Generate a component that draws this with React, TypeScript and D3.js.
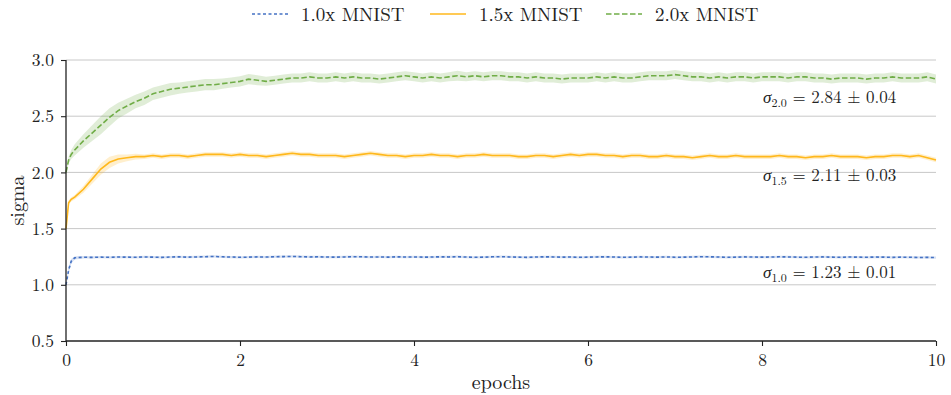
import React, { useRef, useEffect } from 'react';
import * as d3 from 'd3';

// epochs grid: a few dense points at the very start, then every 0.1 epoch
const epochs: number[] = [0, 0.03, 0.06, 0.1].concat(d3.range(2, 101).map(i => i / 10));

const blueMean = [
  1.00, 1.13, 1.21, 1.24,
  1.245, 1.244, 1.246, 1.245, 1.247, 1.246, 1.245, 1.248, 1.246,
  1.244, 1.247, 1.249, 1.246, 1.248, 1.250, 1.252, 1.249, 1.247, 1.245,
  1.246, 1.248, 1.247, 1.250, 1.251, 1.252, 1.250, 1.248, 1.249, 1.247,
  1.246, 1.248, 1.250, 1.249, 1.247, 1.248, 1.246, 1.249, 1.247, 1.248,
  1.246, 1.247, 1.249, 1.248, 1.250, 1.247, 1.245, 1.246, 1.249, 1.250,
  1.248, 1.246, 1.244, 1.247, 1.249, 1.248, 1.246, 1.247, 1.245, 1.246,
  1.248, 1.249, 1.247, 1.245, 1.246, 1.248, 1.247, 1.246, 1.248, 1.245,
  1.246, 1.248, 1.250, 1.249, 1.247, 1.245, 1.246, 1.248, 1.247, 1.246,
  1.247, 1.249, 1.248, 1.246, 1.245, 1.247, 1.248, 1.246, 1.245, 1.247,
  1.246, 1.245, 1.247, 1.246, 1.244, 1.246, 1.245, 1.243, 1.244, 1.242,
];
const blueSpread = [
  0.01, 0.03, 0.02, 0.015,
  0.012, 0.01, 0.01, 0.01, 0.01, 0.01, 0.01, 0.01, 0.01,
  0.01, 0.01, 0.01, 0.01, 0.01, 0.01, 0.01, 0.01, 0.01, 0.01,
  0.01, 0.01, 0.01, 0.01, 0.01, 0.01, 0.01, 0.01, 0.01, 0.01,
  0.01, 0.01, 0.01, 0.01, 0.01, 0.01, 0.01, 0.01, 0.01, 0.01,
  0.01, 0.01, 0.01, 0.01, 0.01, 0.01, 0.01, 0.01, 0.01, 0.01,
  0.01, 0.01, 0.01, 0.01, 0.01, 0.01, 0.01, 0.01, 0.01, 0.01,
  0.01, 0.01, 0.01, 0.01, 0.01, 0.01, 0.01, 0.01, 0.01, 0.01,
  0.01, 0.01, 0.01, 0.01, 0.01, 0.01, 0.01, 0.01, 0.01, 0.01,
  0.01, 0.01, 0.01, 0.01, 0.01, 0.01, 0.01, 0.01, 0.01, 0.01,
  0.01, 0.01, 0.01, 0.01, 0.01, 0.01, 0.01, 0.01, 0.01, 0.01,
];

const orangeMean = [
  1.50, 1.73, 1.76, 1.78,
  1.85, 1.94, 2.03, 2.09, 2.12, 2.13, 2.14, 2.14, 2.15,
  2.14, 2.15, 2.15, 2.14, 2.15, 2.16, 2.16, 2.16, 2.15, 2.16,
  2.15, 2.15, 2.14, 2.15, 2.16, 2.17, 2.16, 2.16, 2.15, 2.15,
  2.15, 2.14, 2.15, 2.16, 2.17, 2.16, 2.15, 2.15, 2.14, 2.15,
  2.15, 2.16, 2.15, 2.15, 2.14, 2.15, 2.15, 2.16, 2.15, 2.15,
  2.15, 2.14, 2.14, 2.15, 2.15, 2.14, 2.15, 2.16, 2.15, 2.16,
  2.16, 2.15, 2.15, 2.14, 2.15, 2.15, 2.14, 2.14, 2.15, 2.14,
  2.14, 2.13, 2.14, 2.15, 2.14, 2.14, 2.15, 2.14, 2.14, 2.14,
  2.14, 2.15, 2.14, 2.14, 2.13, 2.14, 2.14, 2.15, 2.14, 2.14,
  2.14, 2.13, 2.14, 2.14, 2.15, 2.15, 2.14, 2.15, 2.13, 2.11,
];
const orangeSpread = [
  0.01, 0.02, 0.02, 0.02,
  0.03, 0.04, 0.05, 0.05, 0.04, 0.03, 0.025, 0.02, 0.02,
  0.02, 0.02, 0.02, 0.02, 0.02, 0.02, 0.02, 0.02, 0.02, 0.02,
  0.02, 0.02, 0.02, 0.02, 0.02, 0.02, 0.02, 0.02, 0.02, 0.02,
  0.02, 0.02, 0.02, 0.02, 0.02, 0.02, 0.02, 0.02, 0.02, 0.02,
  0.02, 0.02, 0.02, 0.02, 0.02, 0.02, 0.02, 0.02, 0.02, 0.02,
  0.02, 0.02, 0.02, 0.02, 0.02, 0.02, 0.02, 0.02, 0.02, 0.02,
  0.02, 0.02, 0.02, 0.02, 0.02, 0.02, 0.02, 0.02, 0.02, 0.02,
  0.02, 0.02, 0.02, 0.02, 0.02, 0.02, 0.02, 0.02, 0.02, 0.02,
  0.02, 0.02, 0.02, 0.02, 0.02, 0.02, 0.02, 0.02, 0.02, 0.02,
  0.02, 0.02, 0.02, 0.02, 0.02, 0.02, 0.02, 0.02, 0.02, 0.02,
];

const greenMean = [
  2.00, 2.11, 2.16, 2.20,
  2.28, 2.35, 2.42, 2.49, 2.55, 2.59, 2.63, 2.66, 2.70,
  2.72, 2.74, 2.75, 2.76, 2.77, 2.78, 2.78, 2.79, 2.80, 2.81,
  2.83, 2.82, 2.81, 2.82, 2.83, 2.84, 2.84, 2.85, 2.84, 2.84,
  2.85, 2.84, 2.85, 2.84, 2.84, 2.83, 2.84, 2.85, 2.86, 2.85,
  2.84, 2.85, 2.84, 2.85, 2.86, 2.85, 2.86, 2.85, 2.86, 2.86,
  2.85, 2.85, 2.84, 2.85, 2.84, 2.84, 2.83, 2.84, 2.84, 2.84,
  2.85, 2.84, 2.85, 2.84, 2.84, 2.85, 2.86, 2.86, 2.86, 2.87,
  2.86, 2.85, 2.85, 2.84, 2.85, 2.84, 2.85, 2.85, 2.84, 2.85,
  2.85, 2.85, 2.84, 2.85, 2.85, 2.84, 2.84, 2.83, 2.84, 2.84,
  2.84, 2.83, 2.84, 2.84, 2.85, 2.84, 2.84, 2.84, 2.85, 2.83,
];
const greenSpread = [
  0.02, 0.03, 0.04, 0.05,
  0.06, 0.07, 0.08, 0.08, 0.07, 0.065, 0.06, 0.06, 0.055,
  0.055, 0.055, 0.05, 0.05, 0.05, 0.05, 0.05, 0.045, 0.045, 0.045,
  0.045, 0.045, 0.04, 0.04, 0.04, 0.04, 0.04, 0.04, 0.04, 0.04,
  0.04, 0.04, 0.04, 0.04, 0.04, 0.04, 0.04, 0.04, 0.04, 0.04,
  0.04, 0.04, 0.04, 0.04, 0.045, 0.04, 0.04, 0.04, 0.04, 0.04,
  0.04, 0.04, 0.04, 0.04, 0.04, 0.04, 0.04, 0.04, 0.04, 0.04,
  0.04, 0.04, 0.04, 0.04, 0.04, 0.04, 0.04, 0.04, 0.04, 0.04,
  0.04, 0.04, 0.04, 0.04, 0.04, 0.04, 0.04, 0.04, 0.04, 0.04,
  0.04, 0.04, 0.04, 0.04, 0.04, 0.04, 0.04, 0.04, 0.04, 0.04,
  0.04, 0.04, 0.04, 0.04, 0.04, 0.04, 0.04, 0.04, 0.04, 0.04,
];

const seriesNames = ['1.0x MNIST', '1.5x MNIST', '2.0x MNIST'];
const seriesMeans = [blueMean, orangeMean, greenMean];
const seriesSpreads = [blueSpread, orangeSpread, greenSpread];
const colors = ['#4472C4', '#FFB81C', '#70AD47'];
const dashes = ['3,2.5', null, '5.5,2.5'];

const sigmaSubs = ['1.0', '1.5', '2.0'];
const sigmaValues = ['1.23 ± 0.01', '2.11 ± 0.03', '2.84 ± 0.04'];
const sigmaLabelY = [1.06, 1.925, 2.615];

const yTicks = [0.5, 1.0, 1.5, 2.0, 2.5, 3.0];
const xTicks = [0, 2, 4, 6, 8, 10];

const FONT = '"Latin Modern Roman", "Liberation Serif", serif';

const Chart = () => {
  const ref = useRef<SVGSVGElement>(null);

  useEffect(() => {
    const svg = d3.select(ref.current).attr('width', 951).attr('height', 395);
    svg.selectAll('*').remove();

    const margin = { top: 60, right: 15, bottom: 54, left: 66 };
    const width = 951 - margin.left - margin.right;
    const height = 395 - margin.top - margin.bottom;

    const x = d3.scaleLinear().domain([0, 10]).range([0, width]);
    const y = d3.scaleLinear().domain([0.5, 3.0]).range([height, 0]);

    const g = svg.append('g').attr('transform', `translate(${margin.left},${margin.top})`);

    // grid
    g.selectAll('.grid')
      .data(yTicks.slice(1))
      .enter().append('line')
      .attr('x1', 0).attr('x2', width)
      .attr('y1', d => y(d)).attr('y2', d => y(d))
      .attr('stroke', '#c8c8c8').attr('stroke-width', 1);

    // bands
    seriesMeans.forEach((mean, si) => {
      const spread = seriesSpreads[si];
      const area = d3.area<number>()
        .x((_, i) => x(epochs[i]))
        .y0((d, i) => y(d - spread[i]))
        .y1((d, i) => y(d + spread[i]));
      g.append('path')
        .datum(mean)
        .attr('d', area)
        .attr('fill', colors[si])
        .attr('fill-opacity', 0.22);
    });

    // lines
    seriesMeans.forEach((mean, si) => {
      const line = d3.line<number>()
        .x((_, i) => x(epochs[i]))
        .y(d => y(d));
      const p = g.append('path')
        .datum(mean)
        .attr('d', line)
        .attr('fill', 'none')
        .attr('stroke', colors[si])
        .attr('stroke-width', 1.6);
      if (dashes[si]) p.attr('stroke-dasharray', dashes[si] as string);
    });

    // axes
    const xAxis = g.append('g')
      .attr('transform', `translate(0,${height})`)
      .call(d3.axisBottom(x).tickValues(xTicks).tickFormat(d3.format('d')).tickSize(5).tickPadding(8));
    const yAxis = g.append('g')
      .call(d3.axisLeft(y).tickValues(yTicks).tickFormat(d3.format('.1f')).tickSize(5).tickPadding(7));
    [xAxis, yAxis].forEach(a => {
      a.attr('font-family', null).attr('font-size', null);
      a.selectAll('.domain').attr('stroke', '#222').attr('stroke-width', 1.3);
      a.selectAll('.tick line').attr('stroke', '#222').attr('stroke-width', 1.1);
      a.selectAll('text').style('font-family', FONT).style('font-size', '17.5px').attr('fill', '#222');
    });
    xAxis.select('.domain').attr('d', `M0,0H${width}`);
    yAxis.select('.domain').attr('d', `M0,${height}V0`);

    // sigma annotations
    sigmaSubs.forEach((sub, i) => {
      const t = g.append('text')
        .attr('x', x(8.0) + 1)
        .attr('y', y(sigmaLabelY[i]))
        .style('font-family', FONT)
        .style('font-size', '17px')
        .attr('fill', '#222');
      t.append('tspan').attr('font-style', 'italic').text('σ');
      t.append('tspan').style('font-size', '12px').attr('dy', 4).text(sub);
      t.append('tspan').attr('dy', -4).text(` = ${sigmaValues[i]}`);
    });

    // axis labels
    svg.append('text')
      .attr('x', margin.left + width / 2).attr('y', 389)
      .attr('text-anchor', 'middle')
      .style('font-family', FONT).style('font-size', '20px').attr('fill', '#222')
      .text('epochs');
    svg.append('text')
      .attr('transform', `translate(24,${margin.top + height / 2}) rotate(-90)`)
      .attr('text-anchor', 'middle')
      .style('font-family', FONT).style('font-size', '20px').attr('fill', '#222')
      .text('sigma');

    // legend
    const legendX = [252, 430, 606];
    seriesNames.forEach((name, i) => {
      const lg = svg.append('g').attr('transform', `translate(${legendX[i]},14)`);
      const l = lg.append('line')
        .attr('x1', 0).attr('x2', 36).attr('y1', 0).attr('y2', 0)
        .attr('stroke', colors[i]).attr('stroke-width', 1.6);
      if (dashes[i]) l.attr('stroke-dasharray', dashes[i] as string);
      lg.append('text')
        .attr('x', 49).attr('y', 6.5)
        .style('font-family', FONT).style('font-size', '19px').attr('fill', '#222')
        .text(name);
    });
  }, []);

  return <svg ref={ref} style={{ display: 'block', position: 'absolute', left: 0, top: 0 }}></svg>;
};

export default function App() {
  return <Chart />;
}
